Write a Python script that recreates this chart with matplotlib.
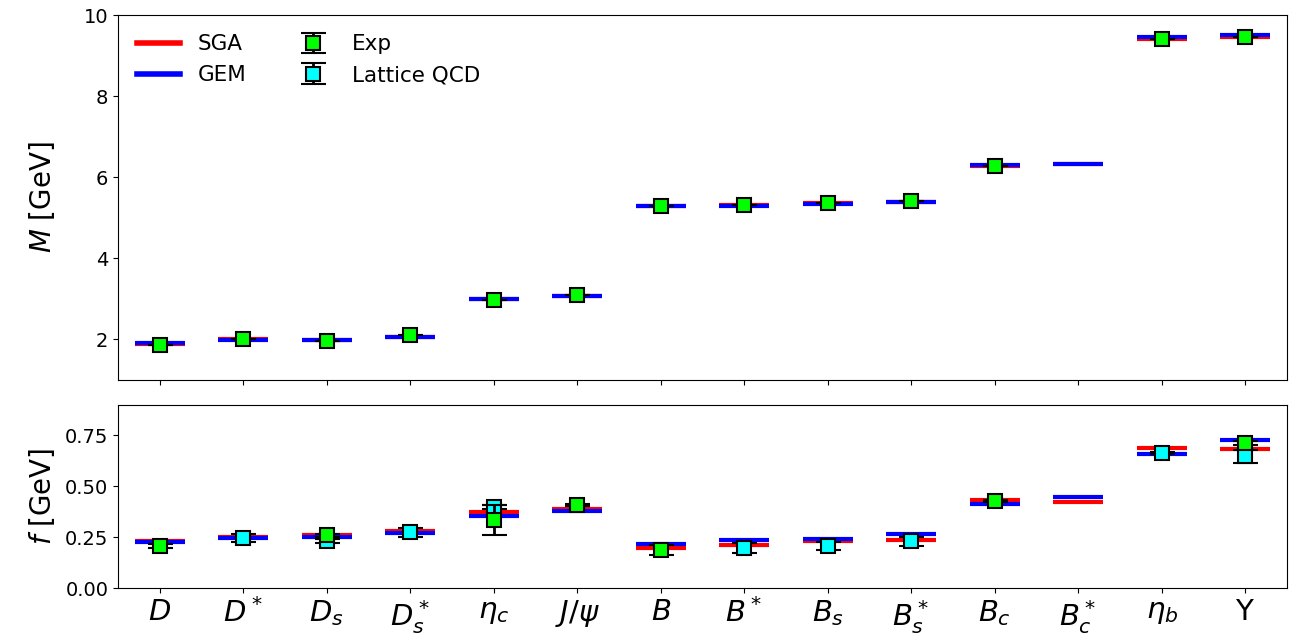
import numpy as np
import matplotlib
matplotlib.use("Agg")
import matplotlib.pyplot as plt
from matplotlib.lines import Line2D
from matplotlib.container import ErrorbarContainer
from matplotlib.legend_handler import HandlerErrorbar

labels = [r"$D$", r"$D^*$", r"$D_s$", r"$D_s^*$", r"$\eta_c$", r"$J/\psi$",
          r"$B$", r"$B^*$", r"$B_s$", r"$B_s^*$", r"$B_c$", r"$B_c^*$",
          r"$\eta_b$", r"$\Upsilon$"]

# masses [GeV]
m_sga = [1.895, 2.00, 1.98, 2.06, 3.00, 3.06, 5.29, 5.31, 5.36, 5.39, 6.27, 6.33, 9.42, 9.45]
m_gem = [1.905, 1.99, 1.99, 2.05, 3.00, 3.06, 5.28, 5.30, 5.35, 5.38, 6.29, 6.33, 9.47, 9.50]
m_exp = [1.867, 2.010, 1.968, 2.112, 2.984, 3.097, 5.279, 5.325, 5.367, 5.415, 6.275, np.nan, 9.399, 9.460]
m_exp_err = [0.0] * 14

# decay constants [GeV]
f_sga = [0.229, 0.253, 0.262, 0.280, 0.375, 0.390, 0.198, 0.210, 0.233, 0.234, 0.432, 0.423, 0.690, 0.686]
f_gem = [0.224, 0.248, 0.249, 0.271, 0.356, 0.377, 0.216, 0.238, 0.239, 0.264, 0.415, 0.449, 0.658, 0.727]
f_exp = [0.208, np.nan, 0.259, np.nan, 0.336, 0.406, 0.186, np.nan, np.nan, np.nan, 0.429, np.nan, np.nan, 0.714]
f_exp_err = [0.010, 0, 0.006, 0, 0.074, 0.005, 0.025, 0, 0, 0, 0.006, 0, 0, 0.010]
f_lat = [np.nan, 0.246, 0.233, 0.274, 0.398, np.nan, np.nan, 0.198, 0.205, 0.229, np.nan, np.nan, 0.665, 0.647]
f_lat_err = [0, 0.021, 0.010, 0.021, 0.010, 0, 0, 0.024, 0.020, 0.021, 0, 0, 0.006, 0.031]

x = np.arange(len(labels))
hw = 0.3

fig = plt.figure(figsize=(12.91, 6.39), dpi=100)
ax1 = fig.add_axes([0.0914, 0.4053, 0.9055, 0.5712])
ax2 = fig.add_axes([0.0914, 0.0798, 0.9055, 0.2864], sharex=ax1)

ebkw = dict(fmt="s", ms=10, mec="k", mew=1.5, ecolor="k", elinewidth=2,
            capsize=9, capthick=2)

for ax, sga, gem in [(ax1, m_sga, m_gem), (ax2, f_sga, f_gem)]:
    ax.hlines(sga, x - hw, x + hw, color="red", lw=3, zorder=2)
    ax.hlines(gem, x - hw, x + hw, color="blue", lw=3, zorder=2)

ax1.errorbar(x, m_exp, yerr=m_exp_err, mfc="#00ff00", zorder=4, **ebkw)
lat = ax2.errorbar(x, f_lat, yerr=f_lat_err, mfc="#00ffff", zorder=3, **ebkw)
exp = ax2.errorbar(x, f_exp, yerr=f_exp_err, mfc="#00ff00", zorder=4, **ebkw)

ax1.set_xlim(-0.5, len(labels) - 0.5)
ax1.set_ylim(1, 10)
ax1.set_yticks([2, 4, 6, 8, 10])
ax2.set_ylim(0, 0.9)
ax2.set_yticks([0, 0.25, 0.5, 0.75])
ax2.set_xticks(x)
ax2.set_xticklabels(labels, fontsize=21)
ax1.tick_params(labelbottom=False)
for ax in (ax1, ax2):
    ax.tick_params(axis="y", labelsize=14)

ax1.set_ylabel(r"$M$ [GeV]", fontsize=20)
ax2.set_ylabel(r"$f$ [GeV]", fontsize=20)
ax1.yaxis.set_label_coords(-0.052, 0.5)
ax2.yaxis.set_label_coords(-0.052, 0.5)

handles = [
    Line2D([], [], color="red", lw=4),
    Line2D([], [], color="blue", lw=4),
    exp,
    lat,
]
ax1.legend(handles, ["SGA", "GEM", "Exp", "Lattice QCD"], ncol=2, loc="upper left",
           frameon=False, fontsize=15.5, columnspacing=2.1, handlelength=2.0,
           handler_map={ErrorbarContainer: HandlerErrorbar(yerr_size=0.48)})

fig.savefig("out.png", dpi=100)
